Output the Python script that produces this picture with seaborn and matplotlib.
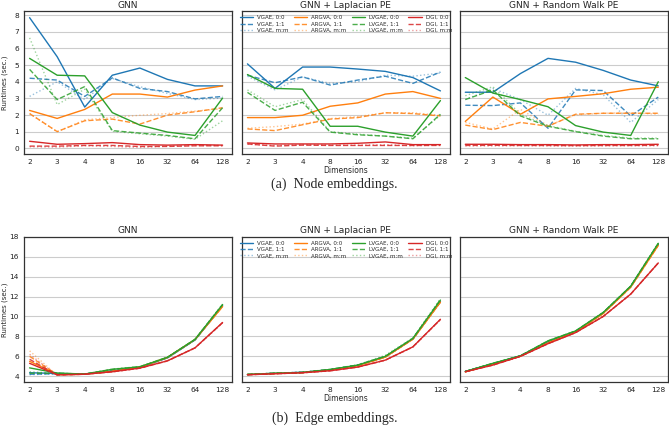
import numpy as np
import pandas as pd
import matplotlib
matplotlib.use("Agg")
import matplotlib.pyplot as plt
import seaborn as sns

# x axis categories (embedding dimensions)
dims = ["2", "3", "4", "8", "16", "32", "64", "128"]
models = ["VGAE", "ARGVA", "LVGAE", "DGI"]
settings = ["0:0", "1:1", "m:m"]
panel_titles = ["GNN", "GNN + Laplacian PE", "GNN + Random Walk PE"]

# Node embeddings, runtimes in seconds
node_gnn = {
    "VGAE, 0:0": [7.84, 5.50, 2.48, 4.39, 4.82, 4.14, 3.75, 3.75],
    "VGAE, 1:1": [4.21, 4.10, 3.12, 4.23, 3.60, 3.41, 2.97, 3.12],
    "VGAE, m:m": [3.12, 4.00, 2.93, 4.20, 3.70, 3.30, 2.93, 3.02],
    "ARGVA, 0:0": [2.28, 1.80, 2.34, 3.26, 3.26, 3.08, 3.50, 3.75],
    "ARGVA, 1:1": [2.09, 1.01, 1.66, 1.76, 1.46, 2.00, 2.20, 2.44],
    "ARGVA, m:m": [2.09, 1.00, 1.72, 1.85, 1.99, 2.09, 2.24, 2.38],
    "LVGAE, 0:0": [5.40, 4.39, 4.35, 2.15, 1.40, 0.98, 0.78, 3.02],
    "LVGAE, 1:1": [4.74, 2.93, 3.71, 1.07, 0.92, 0.78, 0.58, 2.44],
    "LVGAE, m:m": [6.63, 2.63, 3.55, 1.03, 0.88, 0.74, 0.55, 1.66],
    "DGI, 0:0": [0.43, 0.25, 0.29, 0.35, 0.23, 0.20, 0.23, 0.20],
    "DGI, 1:1": [0.14, 0.14, 0.18, 0.18, 0.12, 0.12, 0.16, 0.16],
    "DGI, m:m": [0.10, 0.08, 0.16, 0.12, 0.06, 0.14, 0.18, 0.18],
}
node_lap = {
    "VGAE, 0:0": [5.07, 3.60, 4.88, 4.88, 4.76, 4.62, 4.25, 3.45],
    "VGAE, 1:1": [4.39, 3.94, 4.29, 3.80, 4.10, 4.33, 3.90, 4.58],
    "VGAE, m:m": [4.33, 3.51, 4.29, 3.90, 4.00, 4.39, 4.33, 4.52],
    "ARGVA, 0:0": [1.85, 1.85, 1.99, 2.53, 2.73, 3.26, 3.41, 3.00],
    "ARGVA, 1:1": [1.17, 1.07, 1.42, 1.76, 1.85, 2.14, 2.09, 1.95],
    "ARGVA, m:m": [1.21, 1.31, 1.46, 1.79, 1.91, 2.14, 2.14, 1.99],
    "LVGAE, 0:0": [4.43, 3.60, 3.55, 1.33, 1.33, 0.98, 0.74, 2.87],
    "LVGAE, 1:1": [3.36, 2.28, 2.77, 0.98, 0.82, 0.74, 0.58, 2.05],
    "LVGAE, m:m": [3.51, 2.50, 2.93, 1.01, 0.86, 0.74, 0.62, 1.99],
    "DGI, 0:0": [0.33, 0.27, 0.27, 0.27, 0.31, 0.39, 0.23, 0.23],
    "DGI, 1:1": [0.27, 0.14, 0.20, 0.18, 0.18, 0.18, 0.18, 0.18],
    "DGI, m:m": [0.25, 0.18, 0.23, 0.20, 0.20, 0.23, 0.16, 0.20],
}
node_rw = {
    "VGAE, 0:0": [3.37, 3.37, 4.49, 5.40, 5.17, 4.68, 4.10, 3.75],
    "VGAE, 1:1": [2.59, 2.57, 2.73, 1.21, 3.51, 3.47, 1.95, 3.08],
    "VGAE, m:m": [2.93, 3.60, 2.93, 1.99, 3.60, 3.22, 1.56, 2.93],
    "ARGVA, 0:0": [1.62, 3.08, 2.05, 2.97, 3.12, 3.28, 3.55, 3.67],
    "ARGVA, 1:1": [1.40, 1.13, 1.56, 1.33, 2.05, 2.11, 2.11, 2.11],
    "ARGVA, m:m": [1.56, 1.17, 2.34, 1.37, 2.01, 2.11, 2.14, 2.05],
    "LVGAE, 0:0": [4.25, 3.32, 2.93, 2.50, 1.37, 0.98, 0.78, 4.00],
    "LVGAE, 1:1": [2.93, 3.51, 1.95, 1.33, 1.01, 0.74, 0.58, 0.58],
    "LVGAE, m:m": [3.16, 3.70, 2.05, 1.37, 1.03, 0.78, 0.62, 0.62],
    "DGI, 0:0": [0.25, 0.25, 0.23, 0.23, 0.21, 0.23, 0.23, 0.25],
    "DGI, 1:1": [0.18, 0.19, 0.18, 0.18, 0.17, 0.18, 0.18, 0.19],
    "DGI, m:m": [0.15, 0.15, 0.16, 0.15, 0.14, 0.15, 0.16, 0.16],
}

# Edge embeddings, runtimes in seconds
edge_gnn = {
    "VGAE, 0:0": [4.35, 4.28, 4.22, 4.55, 4.90, 5.85, 7.65, 11.10],
    "VGAE, 1:1": [4.20, 4.25, 4.22, 4.52, 4.88, 5.85, 7.65, 11.10],
    "VGAE, m:m": [4.15, 4.25, 4.22, 4.52, 4.88, 5.85, 7.65, 11.10],
    "ARGVA, 0:0": [5.50, 4.20, 4.22, 4.50, 4.90, 5.88, 7.68, 11.00],
    "ARGVA, 1:1": [6.00, 4.15, 4.20, 4.50, 4.92, 5.88, 7.68, 11.00],
    "ARGVA, m:m": [6.55, 4.10, 4.20, 4.48, 4.95, 5.90, 7.70, 11.05],
    "LVGAE, 0:0": [4.84, 4.32, 4.22, 4.70, 4.95, 5.90, 7.70, 11.20],
    "LVGAE, 1:1": [4.30, 4.30, 4.22, 4.68, 4.95, 5.90, 7.70, 11.20],
    "LVGAE, m:m": [4.45, 4.30, 4.22, 4.72, 4.98, 5.92, 7.72, 11.25],
    "DGI, 0:0": [5.30, 4.15, 4.20, 4.45, 4.82, 5.55, 6.85, 9.40],
    "DGI, 1:1": [5.70, 4.12, 4.20, 4.45, 4.80, 5.55, 6.85, 9.38],
    "DGI, m:m": [6.20, 4.10, 4.20, 4.42, 4.80, 5.52, 6.82, 9.35],
}
edge_lap = {
    "VGAE, 0:0": [4.17, 4.30, 4.40, 4.65, 5.10, 5.95, 7.75, 11.50],
    "VGAE, 1:1": [4.17, 4.30, 4.40, 4.65, 5.10, 5.95, 7.75, 11.50],
    "VGAE, m:m": [4.17, 4.30, 4.40, 4.65, 5.10, 5.95, 7.75, 11.50],
    "ARGVA, 0:0": [4.17, 4.28, 4.37, 4.62, 5.05, 5.92, 7.72, 11.45],
    "ARGVA, 1:1": [4.17, 4.28, 4.37, 4.62, 5.05, 5.92, 7.72, 11.45],
    "ARGVA, m:m": [4.17, 4.28, 4.37, 4.62, 5.05, 5.92, 7.72, 11.45],
    "LVGAE, 0:0": [4.18, 4.30, 4.38, 4.68, 5.12, 6.00, 7.80, 11.65],
    "LVGAE, 1:1": [4.18, 4.30, 4.38, 4.68, 5.12, 6.00, 7.80, 11.70],
    "LVGAE, m:m": [4.18, 4.32, 4.40, 4.70, 5.15, 6.10, 7.85, 11.80],
    "DGI, 0:0": [4.15, 4.25, 4.35, 4.55, 4.92, 5.62, 6.95, 9.72],
    "DGI, 1:1": [4.15, 4.25, 4.35, 4.55, 4.92, 5.62, 6.95, 9.70],
    "DGI, m:m": [4.15, 4.25, 4.35, 4.55, 4.92, 5.60, 6.92, 9.68],
}
edge_rw = {
    "VGAE, 0:0": [4.48, 5.25, 6.05, 7.45, 8.48, 10.35, 13.00, 17.25],
    "VGAE, 1:1": [4.48, 5.25, 6.05, 7.45, 8.48, 10.35, 13.00, 17.25],
    "VGAE, m:m": [4.48, 5.25, 6.05, 7.45, 8.48, 10.35, 13.00, 17.25],
    "ARGVA, 0:0": [4.45, 5.20, 6.02, 7.35, 8.45, 10.30, 12.95, 17.15],
    "ARGVA, 1:1": [4.45, 5.20, 6.02, 7.35, 8.45, 10.30, 12.95, 17.15],
    "ARGVA, m:m": [4.45, 5.20, 6.02, 7.35, 8.45, 10.30, 12.95, 17.15],
    "LVGAE, 0:0": [4.48, 5.30, 6.05, 7.55, 8.55, 10.40, 13.05, 17.35],
    "LVGAE, 1:1": [4.48, 5.30, 6.05, 7.55, 8.55, 10.40, 13.05, 17.35],
    "LVGAE, m:m": [4.48, 5.30, 6.05, 7.55, 8.55, 10.40, 13.05, 17.35],
    "DGI, 0:0": [4.45, 5.12, 6.00, 7.27, 8.38, 10.00, 12.25, 15.38],
    "DGI, 1:1": [4.45, 5.12, 6.00, 7.27, 8.38, 10.00, 12.25, 15.38],
    "DGI, m:m": [4.45, 5.12, 6.00, 7.27, 8.38, 10.00, 12.25, 15.38],
}

colors = dict(zip(models, sns.color_palette("tab10", 4)))
dash = {"0:0": "-", "1:1": "--", "m:m": ":"}
alpha = {"0:0": 1.0, "1:1": 0.85, "m:m": 0.45}

sns.set_style("white")
plt.rcParams["font.family"] = ["DejaVu Sans"]

fig = plt.figure(figsize=(6.69, 4.30), dpi=100)
gs_top = fig.add_gridspec(1, 3, left=0.036, right=0.998, top=0.974, bottom=0.642, wspace=0.048)
gs_bot = fig.add_gridspec(1, 3, left=0.036, right=0.998, top=0.4495, bottom=0.112, wspace=0.048)


def draw_row(gs, panels):
    axes = []
    for i, panel in enumerate(panels):
        ax = fig.add_subplot(gs[0, i], sharey=axes[0] if axes else None)
        rows = []
        for label, vals in panel.items():
            model, setting = label.split(", ")
            for j, v in enumerate(vals):
                rows.append({"pos": j, "runtime": v, "model": model, "setting": setting, "label": label})
        df = pd.DataFrame(rows)
        for label, sub in df.groupby("label", sort=False):
            m, s = sub["model"].iloc[0], sub["setting"].iloc[0]
            sns.lineplot(data=sub, x="pos", y="runtime", ax=ax, color=colors[m],
                         linestyle=dash[s], alpha=alpha[s], linewidth=1.0, label=label)
        ax.set_xticks(range(len(dims)))
        ax.set_xticklabels(dims)
        ax.set_xlim(-0.2, len(dims) - 0.66)
        ax.set_title(panel_titles[i], fontsize=6.5, pad=2.5)
        ax.grid(axis="y", color="#cccccc", linewidth=0.8)
        ax.set_axisbelow(True)
        ax.tick_params(labelsize=5.3, length=2.5, width=0.7, pad=1.2, colors="#222222")
        for sp in ax.spines.values():
            sp.set_color("#333333")
            sp.set_linewidth(0.9)
        ax.set_xlabel("")
        ax.set_ylabel("")
        if i > 0:
            ax.tick_params(labelleft=False)
        if ax.get_legend() is not None:
            ax.get_legend().remove()
        axes.append(ax)
    axes[0].set_ylabel("Runtimes (sec.)", fontsize=5.0)
    axes[0].yaxis.set_label_coords(-0.078, 0.5)
    axes[1].set_xlabel("Dimensions", fontsize=5.5, labelpad=0.5)
    axes[1].legend(loc="upper center", ncol=4, fontsize=4.0, frameon=False,
                   handlelength=2.4, columnspacing=1.0, handletextpad=0.7,
                   labelspacing=0.25, borderaxespad=0.3, bbox_to_anchor=(0.5, 1.0))
    return axes


draw_row(gs_top, [node_gnn, node_lap, node_rw])
draw_row(gs_bot, [edge_gnn, edge_lap, edge_rw])

fig.text(0.5, 1 - 184 / 430, "(a)  Node embeddings.", ha="center", va="center",
         fontsize=10, family="Liberation Serif")
fig.text(0.5, 1 - 418 / 430, "(b)  Edge embeddings.", ha="center", va="center",
         fontsize=10, family="Liberation Serif")

fig.savefig("out.png", dpi=100)
